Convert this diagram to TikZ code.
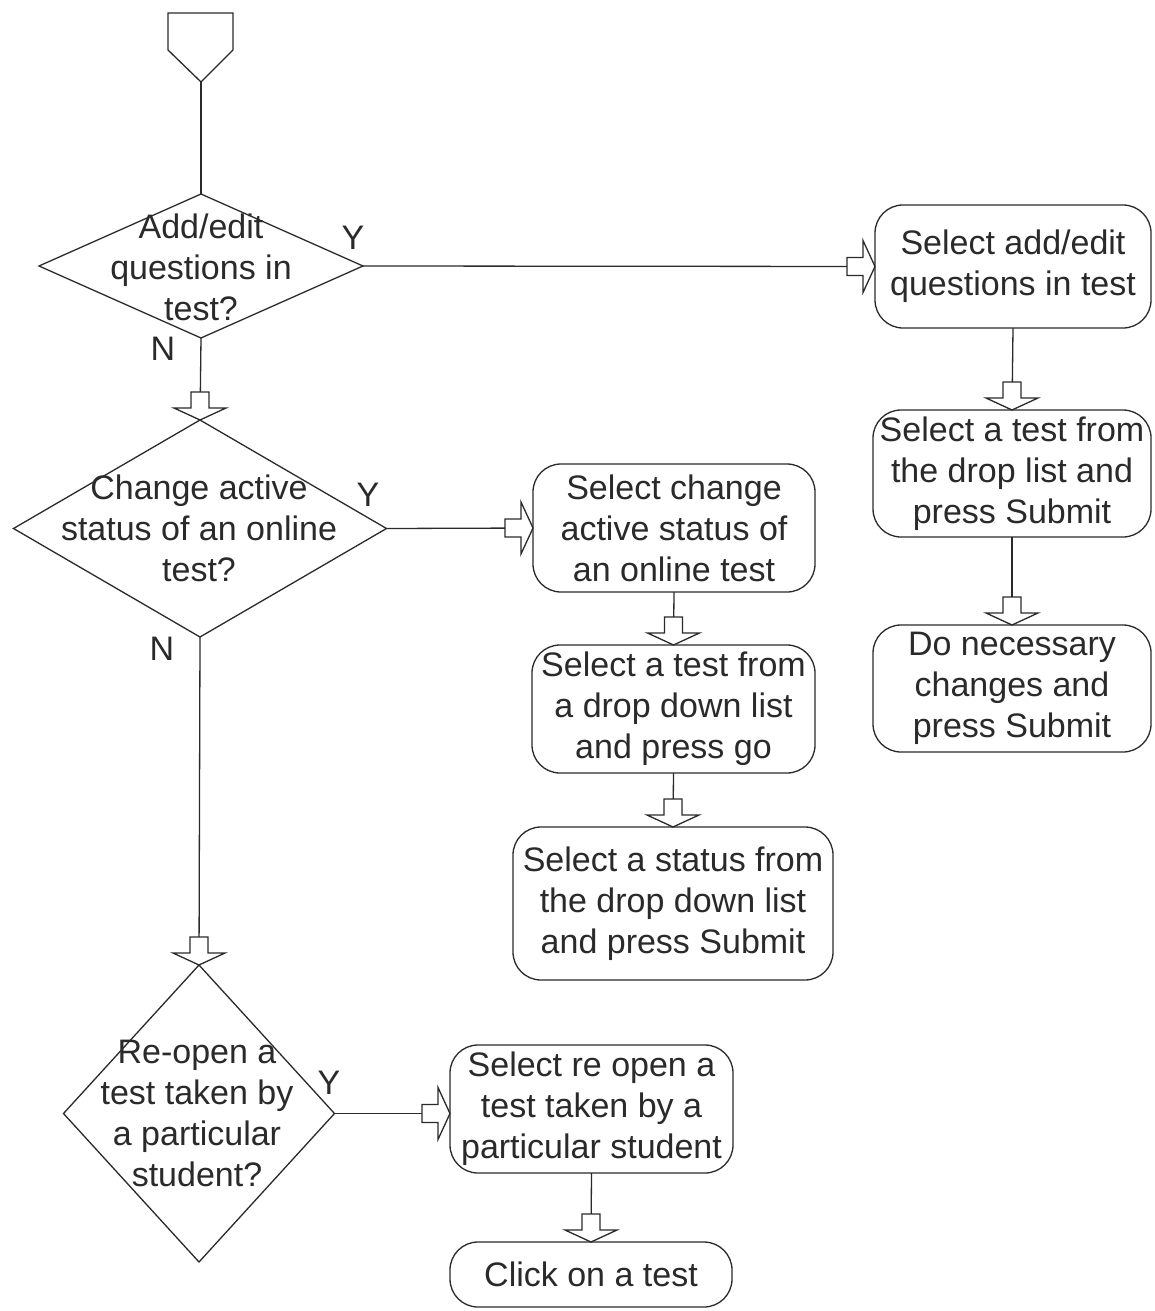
\documentclass[tikz,border=0pt]{standalone}
\usepackage{fontspec}
\setmainfont{Liberation Sans}
\usetikzlibrary{shapes.geometric}
\definecolor{ink}{HTML}{2A2A2A}
\begin{document}
\begin{tikzpicture}[x=1pt,y=-1pt,
  line width=1.3pt, draw=ink, text=ink,
  every node/.style={font=\fontsize{34}{41}\selectfont, inner sep=0pt, outer sep=0pt},
  stepbox/.style={draw=ink, rounded corners=28pt, align=center, line width=1.3pt},
  decision/.style={draw=ink, diamond, line width=1.3pt},
  qtext/.style={align=center},
  yn/.style={},
  link/.style={draw=ink, line width=1.3pt},
  harrow/.pic={\draw[ink, fill=white, line width=1.3pt, line join=miter]
     (0,0) -- (-12,-26) -- (-12,-9) -- (-28,-9) -- (-28,9) -- (-12,9) -- (-12,26) -- cycle;}
]
\useasboundingbox (0,0) rectangle (1154,1311);
\fill[white] (0,0) rectangle (1154,1311);

% off-page connector
\draw[line join=miter] (168,13) -- (233,13) -- (233,50) -- (201,82) -- (168,50) -- cycle;
\coordinate (c0) at (201,82);

% decisions
\node[decision, minimum width=324pt, minimum height=144pt] (d1) at (201,266) {};
\node[qtext] (d1t) at (201,267) {Add/edit\\questions in\\test?};
\node[decision, minimum width=373pt, minimum height=217pt] (d2) at (200,528.5) {};
\node[qtext] (d2t) at (199,528) {Change active\\status of an online\\test?};
\node[decision, minimum width=271pt, minimum height=297pt] (d3) at (199,1113.5) {};
\node[qtext] (d3t) at (197,1113) {Re-open a\\test taken by\\a particular\\student?};

% Y / N labels
\node[yn] (y1) at (353,238) {Y};
\node[yn] (n1) at (163,349) {N};
\node[yn] (y2) at (368,495) {Y};
\node[yn] (n2) at (162,649) {N};
\node[yn] (y3) at (329,1083) {Y};

% step boxes
\node[stepbox, minimum width=276pt, minimum height=123pt] (A) at (1013,266.5) {Select add/edit\\questions in test};
\node[stepbox, minimum width=278pt, minimum height=127pt] (B) at (1012,473.5) {Select a test from\\the drop list and\\press Submit};
\node[stepbox, minimum width=278pt, minimum height=127pt] (C) at (1012,688.5) {Do necessary\\changes and\\press Submit};
\node[stepbox, minimum width=282pt, minimum height=128pt] (D) at (674,528) {Select change\\active status of\\an online test};
\node[stepbox, minimum width=283pt, minimum height=128pt] (E) at (673.5,709) {Select a test from\\a drop down list\\and press go};
\node[stepbox, minimum width=320pt, minimum height=153pt] (F) at (673,903.5) {Select a status from\\the drop down list\\and press Submit};
\node[stepbox, minimum width=283pt, minimum height=128pt] (G) at (591.5,1109) {Select re open a\\test taken by a\\particular student};
\node[stepbox, minimum width=282pt, minimum height=65pt] (H) at (591,1274.5) {Click on a test};

% connectors
\draw[link] (c0) -- (d1.north);
\draw[link] (d1.south) -- (d2.north);
\draw[link] (d2.south) -- (d3.north);
\draw[link] (d1.east) -- (A.west);
\draw[link] (d2.east) -- (D.west);
\draw[link] (d3.east) -- (d3.east -| G.west);
\draw[link] (A.south) -- (B.north);
\draw[link] (B.south) -- (C.north);
\draw[link] (D.south) -- (E.north);
\draw[link] (E.south) -- (F.north);
\draw[link] (G.south) -- (H.north);

% hollow block arrowheads
\pic[rotate=-90] at (d2.north) {harrow};
\pic[rotate=-90] at (d3.north) {harrow};
\pic at (A.west) {harrow};
\pic at (D.west) {harrow};
\pic at (d3.east -| G.west) {harrow};
\pic[rotate=-90] at (B.north) {harrow};
\pic[rotate=-90] at (C.north) {harrow};
\pic[rotate=-90] at (E.north) {harrow};
\pic[rotate=-90] at (F.north) {harrow};
\pic[rotate=-90] at (H.north) {harrow};
\end{tikzpicture}
\end{document}
